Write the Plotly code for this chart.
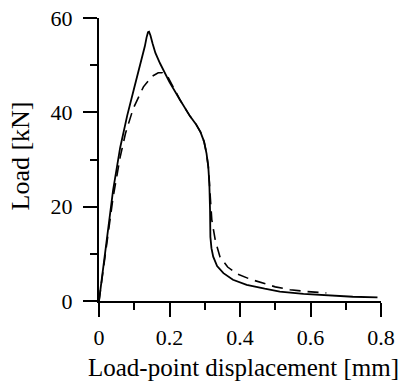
import plotly.graph_objects as go

# Solid curve (load vs load-point displacement)
solid_x = [0, 0.02, 0.04, 0.06, 0.08, 0.10, 0.12, 0.13, 0.135, 0.139, 0.142, 0.146, 0.152, 0.160, 0.173, 0.20, 0.23,
           0.258, 0.275, 0.288, 0.298, 0.305, 0.310, 0.313, 0.315, 0.316, 0.319, 0.324, 0.335, 0.353, 0.38,
           0.419, 0.47, 0.513, 0.58, 0.655, 0.72, 0.79]
solid_y = [0, 12, 23.5, 32.5, 39.3, 45.2, 50.8, 54.0, 55.9, 57.0, 57.1, 56.3, 54.6, 52.6, 50.4, 46.4, 42.6,
           39.2, 37.5, 35.8, 33.8, 31.3, 28.5, 25.0, 19.3, 13.6, 11.2, 9.4, 7.4, 5.9, 4.5,
           3.4, 2.6, 2.0, 1.5, 1.1, 0.9, 0.75]

# Dashed curve
dash_x = [0, 0.02, 0.04, 0.06, 0.075, 0.097, 0.126, 0.15, 0.168, 0.18, 0.197, 0.23, 0.258,
          0.275, 0.288, 0.298, 0.305, 0.310, 0.313, 0.316, 0.320, 0.330, 0.343, 0.365, 0.393, 0.43,
          0.466, 0.50, 0.542, 0.59, 0.645]
dash_y = [0, 11, 22, 30.5, 35.5, 40.8, 45.4, 47.6, 48.4, 48.4, 47.3, 42.6, 39.2,
          37.5, 35.8, 33.8, 31.3, 28.5, 25.0, 19.8, 17.2, 12.8, 9.4, 7.2, 5.7, 4.6,
          3.75, 3.0, 2.4, 2.0, 1.7]

x_ticks = [0, 0.2, 0.4, 0.6, 0.8]
x_ticklabels = ["0", "0.2", "0.4", "0.6", "0.8"]
y_ticks = [0, 20, 40, 60]
y_ticklabels = ["0", "20", "40", "60"]

x_title = "Load-point displacement [mm]"
y_title = "Load [kN]"

FONT = "Liberation Serif"

fig = go.Figure()
fig.add_trace(go.Scatter(x=solid_x, y=solid_y, mode="lines",
                         line=dict(color="black", width=1.8), showlegend=False))
fig.add_trace(go.Scatter(x=dash_x, y=dash_y, mode="lines",
                         line=dict(color="black", width=1.6, dash="11px,7px"), showlegend=False))

axis_common = dict(
    showgrid=False, zeroline=False, showline=True, linecolor="black", linewidth=2,
    ticks="outside", ticklen=14, tickwidth=2, tickcolor="black",
    tickfont=dict(family=FONT, size=22, color="black"),
)

fig.update_xaxes(
    range=[0, 0.8], tickvals=x_ticks, ticktext=x_ticklabels,
    minor=dict(ticks="outside", ticklen=7, tickwidth=2, tickcolor="black", dtick=0.1, tick0=0),
    ticklabelstandoff=2,
    **axis_common,
)
fig.update_yaxes(
    range=[0, 60], tickvals=y_ticks, ticktext=y_ticklabels,
    minor=dict(ticks="outside", ticklen=7, tickwidth=2, tickcolor="black", dtick=10, tick0=0),
    ticklabelstandoff=6,
    **axis_common,
)

fig.add_annotation(text=x_title, xref="paper", yref="paper", x=0.5, y=0,
                   xanchor="center", yanchor="middle", xshift=3, yshift=-66, showarrow=False,
                   font=dict(family=FONT, size=25, color="black"))
fig.add_annotation(text=y_title, xref="paper", yref="paper", x=0, y=0.5,
                   xanchor="center", yanchor="middle", xshift=-79, yshift=3, textangle=-90,
                   showarrow=False, font=dict(family=FONT, size=26, color="black"))

fig.update_layout(
    width=400, height=386,
    margin=dict(l=99, r=19, t=18, b=85, autoexpand=False),
    paper_bgcolor="white", plot_bgcolor="white",
    font=dict(family=FONT, color="black"),
)

fig.write_html("out.html")
